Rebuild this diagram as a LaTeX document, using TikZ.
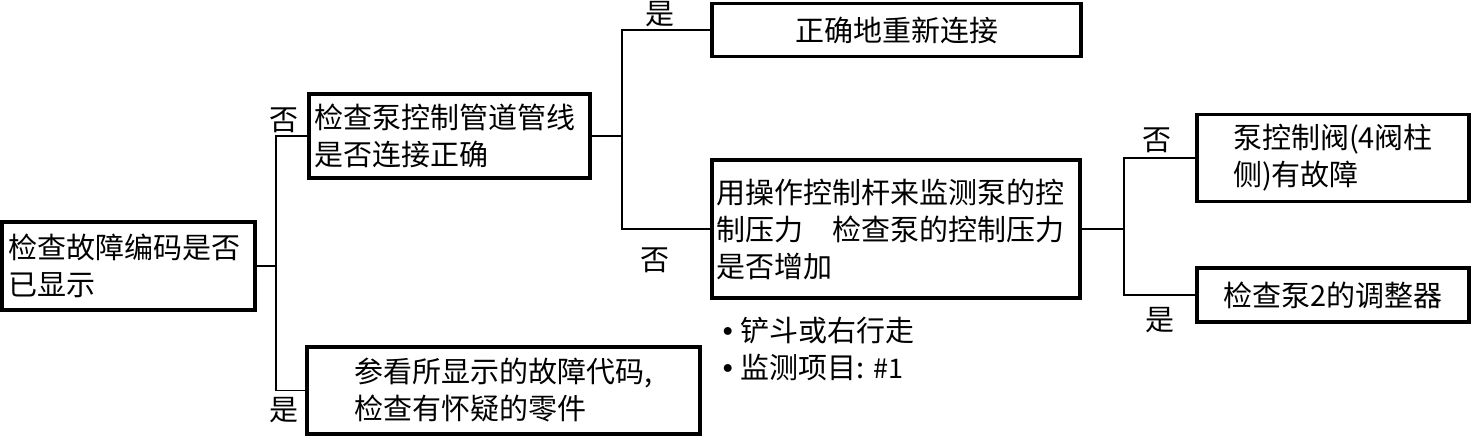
\documentclass[tikz,border=0pt]{standalone}
\usepackage{fontspec}
\setmainfont{Noto Sans CJK SC}
\newfontfamily\djv{DejaVu Sans}
\begin{document}
\begin{tikzpicture}[x=1pt,y=-1pt,
  box/.style={draw, line width=3.8pt, inner sep=0pt, font=\fontsize{29}{37}\selectfont},
  conn/.style={line width=1.5pt},
  lbl/.style={font=\fontsize{29}{34}\selectfont, inner sep=0pt}]
\useasboundingbox (0,0) rectangle (1472,438);
% boxes
\node[box, minimum width=253pt, minimum height=88pt, text width=240pt, align=left] (A) at (128.5,266) {检查故障编码是否\\已显示};
\node[box, minimum width=281pt, minimum height=84pt, text width=270pt, align=left] (B) at (449.5,136) {检查泵控制管道管线\\是否连接正确};
\node[box, minimum width=369pt, minimum height=53pt, align=center] (C) at (896.5,30) {正确地重新连接};
\node[box, minimum width=368pt, minimum height=138pt, text width=360pt, align=left] (D) at (896,229) {用操作控制杆来监测泵的控\\制压力　检查泵的控制压力\\是否增加};
\node[box, minimum width=272pt, minimum height=87pt, align=left] (E) at (1333,158) {泵控制阀(4阀柱\\侧)有故障};
\node[box, minimum width=272pt, minimum height=54pt, align=center] (F) at (1333,295) {检查泵2的调整器};
\node[box, minimum width=393pt, minimum height=87pt, align=left] (G) at (503.5,390.5) {参看所显示的故障代码,\\检查有怀疑的零件};
% note
\node[box, draw=none, anchor=west, align=left] (N) at (718,349) {{\djv\fontsize{27}{37}\selectfont •}\,铲斗或右行走\\{\djv\fontsize{27}{37}\selectfont •}\,监测项目: {\fontsize{27}{37}\selectfont\#1}};
% junctions
\coordinate (j1) at (276,266);
\coordinate (j2) at (622,136);
\coordinate (j3) at (1124,229);
% connectors
\draw[conn] (A.east) -- (j1);
\draw[conn] (B.west) -| (j1) |- (G.west);
\draw[conn] (B.east) -- (j2);
\draw[conn] (C.west) -| (j2) |- (D.west);
\draw[conn] (D.east) -- (j3);
\draw[conn] (E.west) -| (j3) |- (F.west);
% labels
\node[lbl] (l1) at (284,120) {否};
\node[lbl] (l2) at (284,410) {是};
\node[lbl] (l3) at (660,14) {是};
\node[lbl] (l4) at (655,260) {否};
\node[lbl] (l5) at (1157,140) {否};
\node[lbl] (l6) at (1160,320) {是};
\end{tikzpicture}
\end{document}
